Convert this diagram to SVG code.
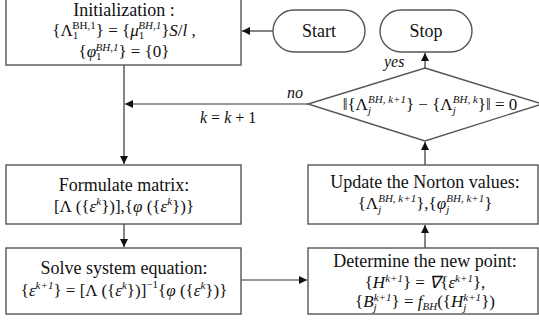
<svg xmlns="http://www.w3.org/2000/svg" width="539" height="320" viewBox="0 0 539 320">
<defs>
<marker id="ah" viewBox="0 0 10 10" refX="10" refY="5" markerWidth="8" markerHeight="8" markerUnits="userSpaceOnUse" orient="auto">
<path d="M0,0 L10,5 L0,10 z" fill="#111"/>
</marker>
</defs>
<style>
.box{fill:#fff;stroke:#555;stroke-width:1.4}
.c{stroke:#333;stroke-width:1.2;fill:none;marker-end:url(#ah)}
</style>
<rect width="539" height="320" fill="#fff"/>
<g id="connectors">
<line class="c" x1="273" y1="31" x2="242" y2="31"/>
<line class="c" x1="425" y1="68" x2="425" y2="53"/>
<line class="c" x1="308" y1="104" x2="125" y2="104"/>
<line class="c" x1="124" y1="65" x2="124" y2="164"/>
<line class="c" x1="124" y1="224" x2="124" y2="247"/>
<line class="c" x1="241" y1="280" x2="307" y2="280"/>
<line class="c" x1="425" y1="248" x2="425" y2="225"/>
<line class="c" x1="425" y1="165" x2="425" y2="142"/>
<text font-family="Liberation Serif" style="font-family:'Liberation Serif',serif" font-size="16" font-style="italic" fill="#111" x="287" y="98">no</text>
<text font-family="Liberation Serif" style="font-family:'Liberation Serif',serif" font-size="16" font-style="italic" fill="#111" x="384" y="67">yes</text>
<text font-family="Liberation Serif" style="font-family:'Liberation Serif',serif" font-size="16" font-style="italic" fill="#111" x="200" y="123">k<tspan font-style="normal"> = </tspan>k<tspan font-style="normal"> + 1</tspan></text>
</g>
<g id="init">
<rect class="box" x="6" y="-2" width="235" height="67"/>
<text font-family="Liberation Serif" style="font-family:'Liberation Serif',serif" font-size="18" text-anchor="middle" fill="#111" x="124" y="16">Initialization :</text>
<text font-family="Liberation Serif" style="font-family:'Liberation Serif',serif" font-size="17" text-anchor="middle" fill="#111" x="124" y="36">{Λ<tspan font-size="11" dy="3">1</tspan><tspan font-size="11" dx="-6" dy="-10">BH,1</tspan><tspan dy="7">} = {</tspan><tspan font-style="italic">μ</tspan><tspan font-size="11" dy="3">1</tspan><tspan font-size="11" font-style="italic" dx="-6" dy="-10">BH,1</tspan><tspan dy="7">}</tspan><tspan font-style="italic">S</tspan>/<tspan font-style="italic">l</tspan> ,</text>
<text font-family="Liberation Serif" style="font-family:'Liberation Serif',serif" font-size="17" text-anchor="middle" fill="#111" x="124" y="57">{<tspan font-style="italic">φ</tspan><tspan font-size="11" dy="3">1</tspan><tspan font-size="11" font-style="italic" dx="-6" dy="-9">BH,1</tspan><tspan dy="6">} = {0}</tspan></text>
</g>
<g id="start">
<rect class="box" x="273" y="10" width="92" height="42" rx="21"/>
<text font-family="Liberation Serif" style="font-family:'Liberation Serif',serif" font-size="18" text-anchor="middle" fill="#111" x="319" y="37">Start</text>
</g>
<g id="stop">
<rect class="box" x="380" y="10" width="92" height="42" rx="21"/>
<text font-family="Liberation Serif" style="font-family:'Liberation Serif',serif" font-size="18" text-anchor="middle" fill="#111" x="426" y="37">Stop</text>
</g>
<g id="decision">
<polygon class="box" points="425,68 542,104 425,141 308,104"/>
<text font-family="Liberation Serif" style="font-family:'Liberation Serif',serif" font-size="17" text-anchor="middle" fill="#111" x="430" y="110">‖{Λ<tspan font-size="11" font-style="italic" dy="4">j</tspan><tspan font-size="11" font-style="italic" dx="-3" dy="-11">BH, k+1</tspan><tspan dy="7">} − {Λ</tspan><tspan font-size="11" font-style="italic" dy="4">j</tspan><tspan font-size="11" font-style="italic" dx="-3" dy="-11">BH, k</tspan><tspan dy="7">}‖ = 0</tspan></text>
</g>
<g id="formulate">
<rect class="box" x="6" y="165" width="235" height="59"/>
<text font-family="Liberation Serif" style="font-family:'Liberation Serif',serif" font-size="18" text-anchor="middle" fill="#111" x="124" y="191">Formulate matrix:</text>
<text font-family="Liberation Serif" style="font-family:'Liberation Serif',serif" font-size="17" text-anchor="middle" fill="#111" x="124" y="212">[Λ ({<tspan font-style="italic">ε</tspan><tspan font-size="11" font-style="italic" dy="-7">k</tspan><tspan dy="7">})],{</tspan><tspan font-style="italic">φ</tspan> ({<tspan font-style="italic">ε</tspan><tspan font-size="11" font-style="italic" dy="-7">k</tspan><tspan dy="7">})}</tspan></text>
</g>
<g id="solve">
<rect class="box" x="6" y="248" width="235" height="66"/>
<text font-family="Liberation Serif" style="font-family:'Liberation Serif',serif" font-size="18" text-anchor="middle" fill="#111" x="124" y="274">Solve system equation:</text>
<text font-family="Liberation Serif" style="font-family:'Liberation Serif',serif" font-size="17" text-anchor="middle" fill="#111" x="124" y="296">{<tspan font-style="italic">ε</tspan><tspan font-size="11" font-style="italic" dy="-7">k+1</tspan><tspan dy="7">} = [Λ ({</tspan><tspan font-style="italic">ε</tspan><tspan font-size="11" font-style="italic" dy="-7">k</tspan><tspan dy="7">})]</tspan><tspan font-size="11" dy="-8">−1</tspan><tspan dy="8">{</tspan><tspan font-style="italic">φ</tspan> ({<tspan font-style="italic">ε</tspan><tspan font-size="11" font-style="italic" dy="-7">k</tspan><tspan dy="7">})}</tspan></text>
</g>
<g id="update">
<rect class="box" x="308" y="165" width="230" height="59"/>
<text font-family="Liberation Serif" style="font-family:'Liberation Serif',serif" font-size="18" text-anchor="middle" fill="#111" x="425" y="188">Update the Norton values:</text>
<text font-family="Liberation Serif" style="font-family:'Liberation Serif',serif" font-size="17" text-anchor="middle" fill="#111" x="425" y="209">{Λ<tspan font-size="11" font-style="italic" dy="4">j</tspan><tspan font-size="11" font-style="italic" dx="-3" dy="-11">BH, k+1</tspan><tspan dy="7">},{</tspan><tspan font-style="italic">φ</tspan><tspan font-size="11" font-style="italic" dy="4">j</tspan><tspan font-size="11" font-style="italic" dx="-3" dy="-11">BH, k+1</tspan><tspan dy="7">}</tspan></text>
</g>
<g id="determine">
<rect class="box" x="308" y="248" width="230" height="66"/>
<text font-family="Liberation Serif" style="font-family:'Liberation Serif',serif" font-size="18" text-anchor="middle" fill="#111" x="425" y="267">Determine the new point:</text>
<text font-family="Liberation Serif" style="font-family:'Liberation Serif',serif" font-size="17" text-anchor="middle" fill="#111" x="425" y="288">{<tspan font-style="italic">H</tspan><tspan font-size="11" font-style="italic" dy="-6">k+1</tspan><tspan dy="6">} = </tspan><tspan font-style="italic">∇</tspan>{<tspan font-style="italic">ε</tspan><tspan font-size="11" font-style="italic" dy="-6">k+1</tspan><tspan dy="6">},</tspan></text>
<text font-family="Liberation Serif" style="font-family:'Liberation Serif',serif" font-size="17" text-anchor="middle" fill="#111" x="425" y="307">{<tspan font-style="italic">B</tspan><tspan font-size="11" font-style="italic" dy="4">j</tspan><tspan font-size="11" font-style="italic" dx="-3" dy="-10">k+1</tspan><tspan dy="6">} = </tspan><tspan font-style="italic">f</tspan><tspan font-size="11" font-style="italic" dy="3">BH</tspan><tspan dy="-3">({</tspan><tspan font-style="italic">H</tspan><tspan font-size="11" font-style="italic" dy="4">j</tspan><tspan font-size="11" font-style="italic" dx="-3" dy="-10">k+1</tspan><tspan dy="6">})</tspan></text>
</g>
</svg>
